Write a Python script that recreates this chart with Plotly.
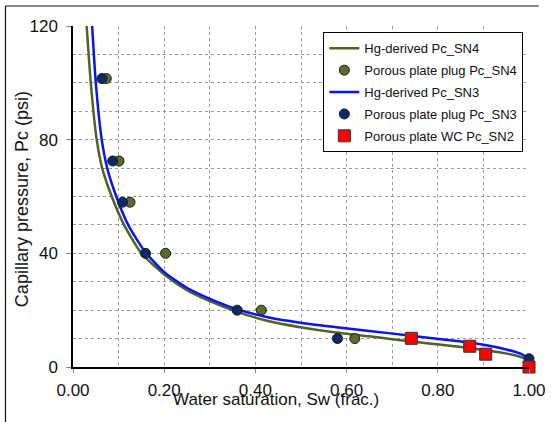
import plotly.graph_objects as go

# Hg-derived capillary pressure curves
sw_hg_sn4 = [0.030, 0.039, 0.052, 0.064, 0.085, 0.112, 0.150, 0.2016, 0.2516, 0.3016, 0.360, 0.430, 0.502, 0.573, 0.650, 0.742, 0.870, 0.952, 0.9825, 1.0]
pc_hg_sn4 = [120, 100, 80, 70, 60, 50, 40, 32.4, 26.9, 23.1, 19.4, 16.1, 13.9, 12.2, 10.8, 9.0, 6.7, 4.7, 3.5, 2.5]

sw_hg_sn3 = [0.042, 0.050, 0.063, 0.075, 0.095, 0.121, 0.158, 0.2016, 0.2516, 0.3016, 0.360, 0.430, 0.502, 0.573, 0.650, 0.742, 0.870, 0.952, 0.9825, 1.0]
pc_hg_sn3 = [120, 100, 80, 70, 60, 50, 40.5, 33.2, 27.7, 23.9, 20.3, 17.4, 15.5, 14.1, 12.7, 11.0, 8.6, 6.1, 4.6, 3.0]

# Porous plate measurements
sw_pp_sn4 = [0.073, 0.101, 0.125, 0.203, 0.413, 0.618]
pc_pp_sn4 = [101.5, 72.5, 58, 40, 20, 10]

sw_pp_sn3 = [0.0635, 0.087, 0.1085, 0.159, 0.360, 0.580, 1.0]
pc_pp_sn3 = [101.5, 72.5, 58, 40, 20, 10, 2.9]

sw_wc_sn2 = [0.742, 0.870, 0.905, 1.0]
pc_wc_sn2 = [10.1, 7.3, 4.5, 0]

names = ["Hg-derived Pc_SN4", "Porous plate plug Pc_SN4", "Hg-derived Pc_SN3",
         "Porous plate plug Pc_SN3", "Porous plate WC Pc_SN2"]

FONT = "Liberation Sans, Arial, sans-serif"
OLIVE = "#4F6228"
OLIVE_DOT = "#5B6B2C"
NAVY = "#0B2A63"
BLUE = "#0A14F0"

fig = go.Figure()
fig.add_trace(go.Scatter(x=sw_hg_sn4, y=pc_hg_sn4, mode="lines", name=names[0],
                         line=dict(color=OLIVE, width=2.5, shape="spline", smoothing=0.6),
                         legendgroup="a"))
fig.add_trace(go.Scatter(x=sw_pp_sn4, y=pc_pp_sn4, mode="markers", name=names[1],
                         marker=dict(color=OLIVE_DOT, size=10, symbol="circle",
                                     line=dict(color="#1a1a1a", width=1)),
                         cliponaxis=False, legendgroup="b"))
fig.add_trace(go.Scatter(x=sw_hg_sn3, y=pc_hg_sn3, mode="lines", name=names[2],
                         line=dict(color=BLUE, width=2.5, shape="spline", smoothing=0.6),
                         legendgroup="c"))
fig.add_trace(go.Scatter(x=sw_pp_sn3, y=pc_pp_sn3, mode="markers", name=names[3],
                         marker=dict(color=NAVY, size=10, symbol="circle",
                                     line=dict(color="#1a1a1a", width=1)),
                         cliponaxis=False, legendgroup="d"))
fig.add_trace(go.Scatter(x=sw_wc_sn2, y=pc_wc_sn2, mode="markers", name=names[4],
                         marker=dict(color="#FF0000", size=12, symbol="square",
                                     line=dict(color="#333333", width=1)),
                         cliponaxis=False, legendgroup="e"))

GRIDC = "#9a9a9a"
grid = dict(showgrid=True, gridcolor=GRIDC, gridwidth=1, griddash="dot")

fig.update_layout(
    width=558, height=422, autosize=False,
    margin=dict(l=73, r=19, t=26, b=55),
    paper_bgcolor="white", plot_bgcolor="white",
    font=dict(family=FONT, size=17, color="#111111"),
    showlegend=True,
    legend=dict(x=0.549, y=0.9815, xanchor="left", yanchor="top",
                bordercolor="#000000", borderwidth=1, bgcolor="white",
                font=dict(family=FONT, size=13, color="#111111"),
                traceorder="grouped", tracegroupgap=2),
    xaxis=dict(range=[0, 1], dtick=0.2, tick0=0, tickformat=".2f",
               showline=True, linecolor="#000000", linewidth=1.5,
               ticks="outside", ticklen=4, tickcolor="#888888",
               ticklabelstandoff=3,
               tickfont=dict(family=FONT, size=17, color="#111111"),
               minor=dict(dtick=0.1, showgrid=True, gridcolor=GRIDC, griddash="dot"),
               zeroline=False, **grid),
    yaxis=dict(range=[0, 120], dtick=40, tick0=0,
               showline=True, linecolor="#000000", linewidth=1.5,
               ticks="outside", ticklen=5, tickcolor="#888888",
               ticklabelstandoff=5,
               tickfont=dict(family=FONT, size=17, color="#111111"),
               minor=dict(dtick=10, showgrid=True, gridcolor=GRIDC, griddash="dot"),
               zeroline=False, **grid),
    annotations=[
        dict(text="Water saturation, Sw (frac.)", xref="paper", yref="paper",
             x=(280 - 73) / 466, y=(367 - 400) / 341, xanchor="center", yanchor="middle",
             showarrow=False, font=dict(family=FONT, size=17, color="#111111")),
        dict(text="Capillary pressure, Pc (psi)", xref="paper", yref="paper",
             x=(20.5 - 73) / 466, y=(367 - 199.5) / 341, xanchor="center", yanchor="middle",
             textangle=-90, showarrow=False, font=dict(family=FONT, size=18, color="#111111")),
    ],
    shapes=[
        dict(type="line", xref="paper", yref="paper",
             x0=(4 - 73) / 466, x1=(4 - 73) / 466, y0=(367 - 6) / 341, y1=(367 - 430) / 341,
             line=dict(color="#111111", width=1.2)),
        dict(type="line", xref="paper", yref="paper",
             x0=(4 - 73) / 466, x1=(549 - 73) / 466, y0=(367 - 6) / 341, y1=(367 - 6) / 341,
             line=dict(color="#111111", width=1.2)),
    ],
)

fig.write_html("out.html")
